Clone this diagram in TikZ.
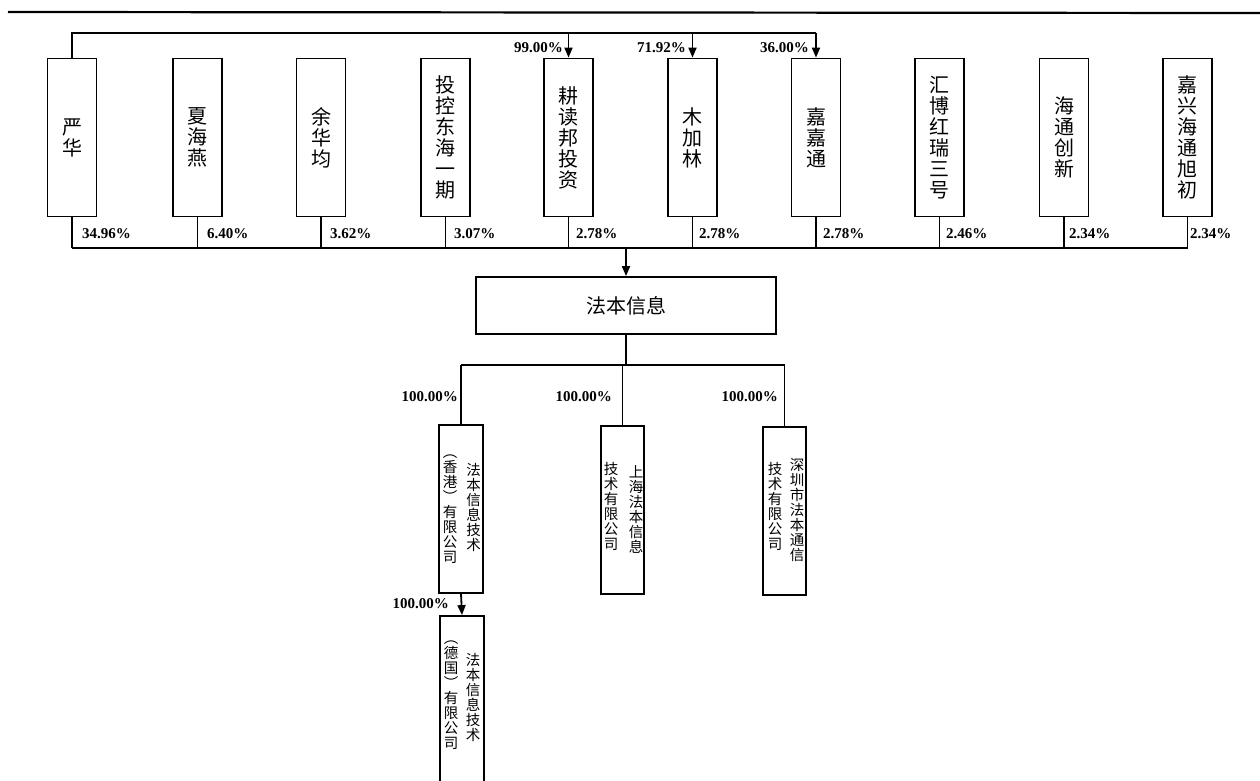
\documentclass[tikz,border=0pt]{standalone}
\usepackage{fontspec}
\setmainfont{Liberation Serif}
\newfontfamily\cjk{Noto Sans CJK SC}
\usetikzlibrary{arrows.meta}
\begin{document}
\begin{tikzpicture}[x=1pt,y=-1pt,
  ln/.style={line width=1.8pt, black},
  arr/.style={ln,-{Triangle[width=8pt,length=10pt]}},
  tbox/.style={draw, line width=1.8pt, minimum width=49pt, minimum height=158pt, inner sep=0pt, align=center, font=\cjk\fontsize{20}{21}\selectfont},
  sbox/.style={draw, line width=1.8pt, minimum width=44pt, inner sep=0pt},
  col/.style={anchor=north, inner sep=0pt, align=center, font=\cjk\fontsize{14.5}{15}\selectfont},
  pct/.style={inner sep=0pt, font=\fontsize{15}{15}\selectfont\bfseries},
]
\useasboundingbox (0,0) rectangle (1260,780);
\clip (0,0) rectangle (1260,780);
\fill[white] (0,0) rectangle (1260,780);
% top rule
\draw[line width=2.2pt] (8,12) -- (1260,13);
% shareholders
\node[tbox] (n1) at (72,137.5) {严\\华};
\node[tbox] (n2) at (197.5,137.5) {夏\\海\\燕};
\node[tbox] (n3) at (321,137.5) {余\\华\\均};
\node[tbox] (n4) at (445.5,137.5) {投\\控\\东\\海\\一\\期};
\node[tbox] (n5) at (568.5,137.5) {耕\\读\\邦\\投\\资};
\node[tbox] (n6) at (692.5,137.5) {木\\加\\林};
\node[tbox] (n7) at (816,137.5) {嘉\\嘉\\通};
\node[tbox] (n8) at (939.5,137.5) {汇\\博\\红\\瑞\\三\\号};
\node[tbox] (n9) at (1064,137.5) {海\\通\\创\\新};
\node[tbox] (n10) at (1187.5,137.5) {嘉\\兴\\海\\通\\旭\\初};
% top bus
\coordinate (tb) at (0,33);
\draw[ln] (n1.north) -- (n1.north |- tb) -- (n7.north |- tb);
\draw[arr] (n5.north |- tb) -- (n5.north);
\draw[arr] (n6.north |- tb) -- (n6.north);
\draw[arr] (n7.north |- tb) -- (n7.north);
\node[pct, anchor=east] (p99) at (563,48) {99.00\%};
\node[pct, anchor=east] (p71) at (686,48) {71.92\%};
\node[pct, anchor=east] (p36) at (809,48) {36.00\%};
% bottom bus
\coordinate (bb) at (0,248);
\draw[ln] (n1.south |- bb) -- (n10.south |- bb);
\foreach \i in {1,...,10} {\draw[ln] (n\i.south) -- (n\i.south |- bb);}
\node[pct, anchor=west] (q1) at (82,234) {34.96\%};
\node[pct, anchor=west] (q2) at (207,234) {6.40\%};
\node[pct, anchor=west] (q3) at (330,234) {3.62\%};
\node[pct, anchor=west] (q4) at (454,234) {3.07\%};
\node[pct, anchor=west] (q5) at (576,234) {2.78\%};
\node[pct, anchor=west] (q6) at (699,234) {2.78\%};
\node[pct, anchor=west] (q7) at (823,234) {2.78\%};
\node[pct, anchor=west] (q8) at (946,234) {2.46\%};
\node[pct, anchor=west] (q9) at (1069,234) {2.34\%};
\node[pct, anchor=west] (q10) at (1190,234) {2.34\%};
% main company
\node[draw, line width=1.8pt, minimum width=300pt, minimum height=57pt, inner sep=0pt, font=\cjk\fontsize{20}{20}\selectfont] (fb) at (626,305.5) {法本信息};
\draw[arr] (fb.north |- bb) -- (fb.north);
% subsidiaries
\node[sbox, minimum height=168pt] (s1) at (461,509) {};
\node[sbox, minimum width=43pt, minimum height=168pt] (s2) at (622.5,510) {};
\node[sbox, minimum width=43pt, minimum height=168pt] (s3) at (784.5,511) {};
\node[sbox, minimum height=190pt] (s4) at (462,711) {};
\coordinate (sb) at (0,365);
\draw[ln] (fb.south) -- (fb.south |- sb);
\draw[ln] (s1.north |- sb) -- (s3.north |- sb);
\draw[ln] (s1.north |- sb) -- (s1.north);
\draw[ln] (s2.north |- sb) -- (s2.north);
\draw[ln] (s3.north |- sb) -- (s3.north);
\draw[arr] (s1.south) -- (s4.north);
\node[pct, anchor=east] (r1) at (458,397) {100.00\%};
\node[pct, anchor=east] (r2) at (612,397) {100.00\%};
\node[pct, anchor=east] (r3) at (778,397) {100.00\%};
\node[pct, anchor=east] (r4) at (449,604) {100.00\%};
% column texts
\node[col] (s1r) at (473.5,463) {法\\本\\信\\息\\技\\术};
\node[col] (s1l) at (450,455) {︵\\香\\港\\︶\\有\\限\\公\\司};
\node[col] (s2r) at (636,465) {上\\海\\法\\本\\信\\息};
\node[col] (s2l) at (611,462) {技\\术\\有\\限\\公\\司};
\node[col] (s3r) at (797,458) {深\\圳\\市\\法\\本\\通\\信};
\node[col] (s3l) at (775,462) {技\\术\\有\\限\\公\\司};
\node[col] (s4r) at (473,653) {法\\本\\信\\息\\技\\术};
\node[col] (s4l) at (451,641) {︵\\德\\国\\︶\\有\\限\\公\\司};
\end{tikzpicture}
\end{document}
